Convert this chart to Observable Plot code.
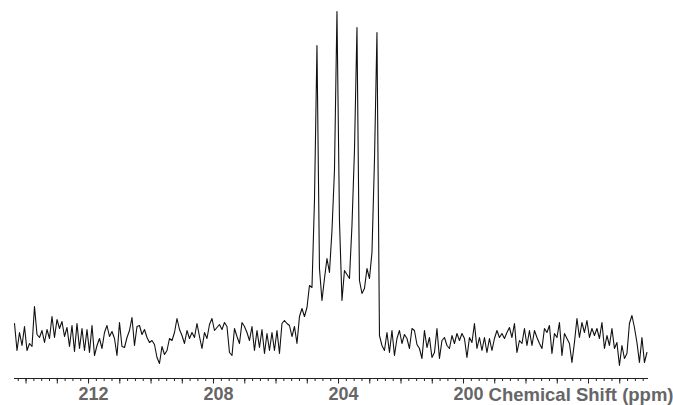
<!DOCTYPE html>
<html><head><meta charset="utf-8">
<script src="https://cdn.jsdelivr.net/npm/d3@7"></script>
<script src="https://cdn.jsdelivr.net/npm/@observablehq/plot@0.6"></script>
<style>body{margin:0;background:#fff;overflow:hidden}</style>
</head><body><div id="chart"></div>
<script>
const ppmStart = 214.37;
const ppmStep = 0.08;
const intensity = [
 17, -10, 8, -5, 14, -10, -3, -6, 34, 6,
 3, 10, -2, 11, 2, 24, 3, 21, 12, 19,
 4, 13, -6, 15, -11, 17, -8, 12, -10, 11,
 -12, 15, -15, -5, 2, -8, 8, 15, 4, 9,
 2, -15, 18, -6, -7, 3, 10, 23, -5, 14,
 15, 6, 11, 3, -2, 0, -4, -17, -23, -6,
 -14, -10, 2, 0, 8, 22, 11, 5, -3, 10,
 2, 8, 3, 17, 4, -8, 8, 2, 16, 22,
 10, 13, 16, 11, 18, 14, -12, -15, 12, 4,
 -3, 18, 14, 8, 0, 14, -10, 10, -7, 11,
 -13, 7, -10, 8, -10, 10, -13, 17, 20, 17,
 15, 4, 14, -3, 24, 32, 24, 33, 55, 53,
 140, 295, 72, 40, 62, 82, 68, 110, 170, 329,
 120, 40, 70, 66, 62, 115, 190, 313, 60, 47,
 52, 72, 62, 88, 180, 308, 5, -5, -10, 8,
 -12, 10, -15, 2, 10, -3, 6, 2, -8, 12,
 10, -4, -8, -18, 10, -7, 3, -17, -12, 12,
 -18, 0, 3, -5, -8, 5, -3, 7, 0, 7,
 2, -17, 3, -2, 17, -8, 3, -10, 3, -12,
 2, -10, 2, 10, 3, 7, 2, 8, 13, 3,
 17, -12, 0, -3, 12, -5, 10, -5, 10, 3,
 -3, -8, 12, 8, 15, -13, 7, 3, 18, -15,
 7, 2, -3, -22, -2, 22, 3, 18, 8, 20,
 3, 12, 5, 12, 2, 18, -8, 5, -5, 12,
 -8, -2, -25, -5, -18, -13, 17, 25, 13, -2,
 -22, 3, -22, -12
];
const labelTicks = [212, 208, 204, 200];
const axisTitle = "Chemical Shift (ppm)";
const xDomain = [214.37, 194.08];
const yDomain = [-38, 340];

const data = intensity.map((v, i) => ({ppm: +(ppmStart - i * ppmStep).toFixed(3), v}));
const minorTicks = d3.range(777, 858).map(k => k / 4);
const intTicks = d3.range(195, 215);
const titleData = [{ppm: labelTicks[labelTicks.length - 1], t: axisTitle}];

const font = "'Liberation Sans', Arial, Helvetica, sans-serif";
const chart = Plot.plot({
  width: 673,
  height: 405,
  marginTop: 0,
  marginBottom: 27,
  marginLeft: 14,
  marginRight: 25,
  x: {domain: xDomain, axis: null, label: null},
  y: {domain: yDomain, axis: null, label: null},
  style: {fontFamily: font, background: "#fff", overflow: "visible"},
  marks: [
    Plot.ruleY([yDomain[0]], {stroke: "#222", strokeWidth: 1}),
    Plot.axisX({ticks: minorTicks, tickSize: 3, tickFormat: () => "", stroke: "#222", label: null}),
    Plot.axisX({ticks: intTicks, tickSize: 5.5, tickFormat: () => "", stroke: "#222", label: null}),
    Plot.axisX({ticks: labelTicks, tickSize: 0, tickPadding: 9, tickFormat: d => String(d),
      fontSize: 18, fontWeight: "bold", fill: "#666", dx: 5, label: null}),
    Plot.text(titleData, {x: "ppm", text: "t", frameAnchor: "bottom", textAnchor: "start",
      lineAnchor: "top", dx: 25, dy: 9, fontSize: 18.5, fontWeight: "bold", fill: "#666"}),
    Plot.line(data, {x: "ppm", y: "v", stroke: "#111", strokeWidth: 1.1})
  ]
});
document.getElementById("chart").appendChild(chart);
</script>
</body></html>
